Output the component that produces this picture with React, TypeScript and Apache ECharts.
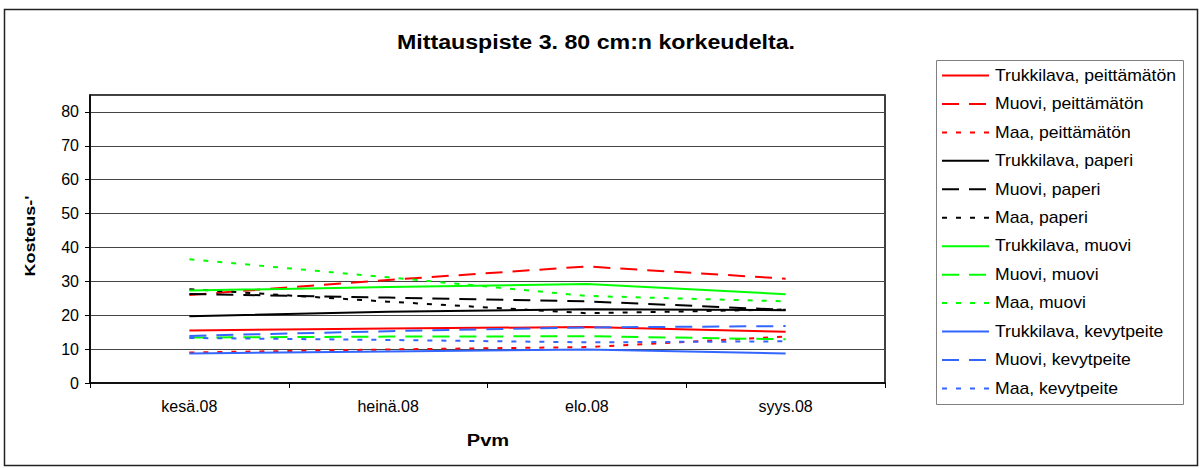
import React, { useEffect, useRef } from "react";
import * as echarts from "echarts";

const categories = ["kesä.08", "heinä.08", "elo.08", "syys.08"];

const seriesNames = [
  "Trukkilava, peittämätön",
  "Muovi, peittämätön",
  "Maa, peittämätön",
  "Trukkilava, paperi",
  "Muovi, paperi",
  "Maa, paperi",
  "Trukkilava, muovi",
  "Muovi, muovi",
  "Maa, muovi",
  "Trukkilava, kevytpeite",
  "Muovi, kevytpeite",
  "Maa, kevytpeite",
];

const trukkilavaPeittamaton = [15.5, 16.1, 16.5, 15.1];
const muoviPeittamaton = [26.0, 30.4, 34.4, 30.8];
const maaPeittamaton = [9.0, 9.9, 10.6, 13.7];
const trukkilavaPaperi = [19.7, 21.0, 21.8, 21.5];
const muoviPaperi = [26.3, 25.2, 24.1, 21.6];
const maaPaperi = [27.7, 24.0, 20.6, 21.7];
const trukkilavaMuovi = [27.3, 28.3, 29.2, 26.2];
const muoviMuovi = [13.4, 13.7, 13.8, 12.9];
const maaMuovi = [36.5, 31.2, 25.7, 24.1];
const trukkilavaKevytpeite = [8.7, 9.3, 9.9, 8.7];
const muoviKevytpeite = [13.9, 15.3, 16.4, 16.8];
const maaKevytpeite = [13.3, 12.7, 12.0, 12.3];

const seriesValues = [
  trukkilavaPeittamaton,
  muoviPeittamaton,
  maaPeittamaton,
  trukkilavaPaperi,
  muoviPaperi,
  maaPaperi,
  trukkilavaMuovi,
  muoviMuovi,
  maaMuovi,
  trukkilavaKevytpeite,
  muoviKevytpeite,
  maaKevytpeite,
];

const RED = "#FF0000";
const BLACK = "#000000";
const GREEN = "#00FF00";
const BLUE = "#3366FF";
const seriesColors = [RED, RED, RED, BLACK, BLACK, BLACK, GREEN, GREEN, GREEN, BLUE, BLUE, BLUE];

const SOLID: number[] | null = null;
const DASH = [17, 10];
const DOT = [5, 9];
const seriesDash = [SOLID, DASH, DOT, SOLID, DASH, DOT, SOLID, DASH, DOT, SOLID, DASH, DOT];

const FONT = "'Liberation Sans', Arial, Helvetica, sans-serif";

export default function App() {
  const ref = useRef<HTMLDivElement>(null);

  useEffect(() => {
    if (!ref.current) return;
    const chart = echarts.init(ref.current, undefined, { renderer: "svg" });

    const legendTop = 75.5;
    const legendStep = 28.45;
    const legendGraphics: any[] = [];
    legendGraphics.push({
      type: "rect",
      shape: { x: 936.5, y: 60.5, width: 247, height: 344 },
      style: { fill: "#fff", stroke: "#808080", lineWidth: 1 },
      z: 1,
    });
    seriesNames.forEach((name, i) => {
      const y = legendTop + i * legendStep;
      legendGraphics.push({
        type: "line",
        shape: { x1: 942, y1: y, x2: 989, y2: y },
        style: {
          stroke: seriesColors[i],
          lineWidth: 2,
          lineDash: seriesDash[i] || undefined,
        },
        z: 2,
      });
      legendGraphics.push({
        type: "text",
        x: 995,
        y: y,
        scaleX: 1.1,
        style: {
          text: name,
          font: `16px ${FONT}`,
          fill: "#000",
          align: "left",
          verticalAlign: "middle",
          textAlign: "left",
          textVerticalAlign: "middle",
        },
        z: 2,
      });
    });

    const option: any = {
      animation: false,
      backgroundColor: "#fff",
      grid: {
        left: 90,
        right: 318,
        top: 95,
        bottom: 85,
        show: true,
        borderColor: "#000",
        borderWidth: 1.5,
        backgroundColor: "transparent",
      },
      xAxis: {
        type: "category",
        data: categories,
        boundaryGap: true,
        axisLine: { show: true, lineStyle: { color: "#000", width: 1.5 } },
        axisTick: { show: true, length: 5, inside: false, lineStyle: { color: "#000", width: 1 } },
        axisLabel: { fontSize: 16, color: "#000", fontFamily: FONT, margin: 15 },
        splitLine: { show: false },
      },
      yAxis: {
        type: "value",
        min: 0,
        max: 85,
        interval: 10,
        axisLine: { show: true, lineStyle: { color: "#000", width: 1.5 } },
        axisTick: { show: true, length: 5, inside: false, lineStyle: { color: "#000", width: 1 } },
        axisLabel: { fontSize: 16, color: "#000", fontFamily: FONT, margin: 11, showMaxLabel: false },
        splitLine: { show: true, lineStyle: { color: "#444", width: 1 } },
      },
      series: seriesNames.map((name, i) => ({
        name,
        type: "line",
        data: seriesValues[i],
        symbol: "none",
        showSymbol: false,
        smooth: false,
        lineStyle: {
          color: seriesColors[i],
          width: 2,
          type: seriesDash[i] || "solid",
        },
        itemStyle: { color: seriesColors[i] },
      })),
      graphic: [
        {
          type: "rect",
          shape: { x: 4.5, y: 9.5, width: 1193, height: 456 },
          style: { fill: "none", stroke: "#222", lineWidth: 1.5 },
          z: 0,
        },
        {
          type: "text",
          x: 596,
          y: 42,
          scaleX: 1.16,
          style: {
            text: "Mittauspiste 3. 80 cm:n korkeudelta.",
            font: `bold 20px ${FONT}`,
            fill: "#000",
            align: "center",
            verticalAlign: "middle",
            textAlign: "center",
            textVerticalAlign: "middle",
          },
        },
        {
          type: "text",
          x: 488,
          y: 440,
          scaleX: 1.18,
          style: {
            text: "Pvm",
            font: `bold 17px ${FONT}`,
            fill: "#000",
            align: "center",
            verticalAlign: "middle",
            textAlign: "center",
            textVerticalAlign: "middle",
          },
        },
        {
          type: "text",
          x: 30,
          y: 236,
          rotation: Math.PI / 2,
          scaleX: 1.2,
          style: {
            text: "Kosteus-'",
            font: `bold 15px ${FONT}`,
            fill: "#000",
            align: "center",
            verticalAlign: "middle",
            textAlign: "center",
            textVerticalAlign: "middle",
          },
        },
        ...legendGraphics,
      ],
    };

    chart.setOption(option);
    return () => {
      chart.dispose();
    };
  }, []);

  return (
    <div
      ref={ref}
      style={{ position: "absolute", left: 0, top: 0, width: 1203, height: 468 }}
    />
  );
}
